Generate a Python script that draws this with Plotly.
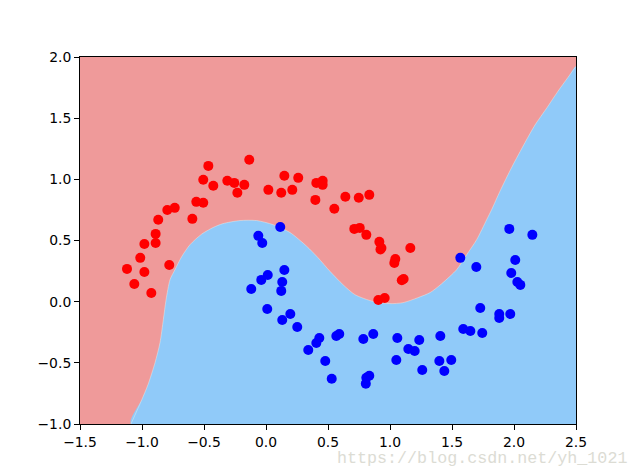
import plotly.graph_objects as go

# points of class 0 (red)
red_x = [-0.135, -0.465, -0.506, -0.425, -0.312, -0.256, -0.175, -0.231, 0.019, 0.148, 0.123, 0.260, 0.212,
         0.406, 0.457, 0.457, 0.398, -0.562, -0.506, -0.594, -0.796, -0.736, -0.869, -0.890, -0.981, -0.890,
         -1.014, -0.780, -1.121, -0.981, -1.062, -0.925, 0.640, 0.748, 0.833, 0.551, 0.712, 0.756, 0.809,
         0.914, 0.923, 0.931, 1.164, 1.043, 1.035, 1.095, 1.110, 0.906, 0.957]
red_y = [1.160, 1.110, 0.996, 0.947, 0.988, 0.971, 0.955, 0.890, 0.914, 1.029, 0.890, 1.012, 0.914,
         0.971, 0.988, 0.955, 0.832, 0.816, 0.808, 0.677, 0.750, 0.767, 0.669, 0.554, 0.472, 0.480,
         0.358, 0.300, 0.268, 0.243, 0.145, 0.071, 0.857, 0.849, 0.873, 0.759, 0.595, 0.603, 0.546,
         0.489, 0.426, 0.438, 0.439, 0.349, 0.317, 0.175, 0.185, 0.014, 0.030]

# points of class 1 (blue)
blue_x = [0.115, -0.062, -0.030, 0.148, 0.014, -0.038, 0.131, -0.119, 0.123, 0.010, 0.196, 0.131, 0.252,
          0.430, 0.406, 0.341, 0.478, 0.530, 1.962, 2.148, 1.567, 1.696, 2.010, 1.978, 2.027, 2.051, 1.728,
          1.881, 1.881, 1.970, 1.591, 1.648, 1.744, 1.406, 1.236, 1.059, 0.865, 0.785, 0.591, 0.567, 1.148,
          1.199, 1.051, 1.398, 1.494, 1.260, 1.438, 0.833, 0.809, 0.805]
blue_y = [0.611, 0.538, 0.480, 0.259, 0.218, 0.178, 0.161, 0.104, 0.088, -0.060, -0.101, -0.150, -0.207,
          -0.297, -0.338, -0.395, -0.485, -0.630, 0.595, 0.546, 0.358, 0.284, 0.341, 0.235, 0.161, 0.137, -0.052,
          -0.101, -0.133, -0.101, -0.223, -0.240, -0.256, -0.281, -0.313, -0.297, -0.264, -0.305, -0.264, -0.281, -0.387,
          -0.403, -0.477, -0.485, -0.477, -0.559, -0.567, -0.606, -0.622, -0.670]

boundary_x = [-1.089, -1.002, -0.952, -0.895, -0.855, -0.828, -0.806, -0.774, -0.734, -0.680, -0.613, -0.519,
              -0.427, -0.347, -0.210, -0.075, 0.056, 0.194, 0.328, 0.419, 0.516, 0.621, 0.718, 0.863, 1.000,
              1.105, 1.226, 1.323, 1.417, 1.538, 1.619, 1.699, 1.780, 1.820, 1.887, 1.981, 2.089, 2.169,
              2.264, 2.355, 2.435, 2.500]
boundary_y = [-1.000, -0.802, -0.679, -0.499, -0.336, -0.147, 0.016, 0.180, 0.262, 0.368, 0.466, 0.552,
              0.606, 0.638, 0.663, 0.663, 0.630, 0.565, 0.453, 0.360, 0.248, 0.139, 0.057, 0.002, -0.016,
              -0.008, 0.033, 0.074, 0.147, 0.262, 0.385, 0.507, 0.671, 0.753, 0.903, 1.097, 1.301, 1.444,
              1.583, 1.721, 1.833, 1.923]

x_ticks = [-1.5, -1.0, -0.5, 0.0, 0.5, 1.0, 1.5, 2.0, 2.5]
y_ticks = [-1.0, -0.5, 0.0, 0.5, 1.0, 1.5, 2.0]

fig = go.Figure()

# blue region, closed through the bottom right corner
fig.add_trace(go.Scatter(x=boundary_x + [2.5, boundary_x[0]], y=boundary_y + [-1.0, boundary_y[0]],
                         mode='lines', fill='toself', fillcolor='#90caf9',
                         line=dict(width=0, shape='spline', smoothing=0.7), hoverinfo='skip'))
fig.add_trace(go.Scatter(x=boundary_x, y=boundary_y, mode='lines', opacity=0.7,
                         line=dict(color='#ffffee', width=0.5, shape='spline', smoothing=0.7), hoverinfo='skip'))
fig.add_trace(go.Scatter(x=red_x, y=red_y, mode='markers', marker=dict(color='#ff0000', size=10)))
fig.add_trace(go.Scatter(x=blue_x, y=blue_y, mode='markers', marker=dict(color='#0000ff', size=10)))

axis_style = dict(showgrid=False, zeroline=False, showline=True, mirror=True, linecolor='black', linewidth=1,
                  ticks='outside', ticklen=5, tickwidth=1, tickcolor='black', tickformat='.1f')

fig.update_xaxes(range=[-1.5, 2.5], tickvals=x_ticks, **axis_style)
fig.update_yaxes(range=[-1.0, 2.0], tickvals=y_ticks, **axis_style)

# the page has an 8px body margin, so the figure is 8px smaller than the window
fig.update_layout(
    width=632,
    height=468,
    margin=dict(l=72, r=64, t=49, b=52, autoexpand=False),
    plot_bgcolor='#ef9a9a',
    paper_bgcolor='white',
    font=dict(family='DejaVu Sans', size=13.9, color='black'),
    showlegend=False,
    annotations=[dict(text='https://blog.csdn.net/yh_1021', xref='paper', yref='paper', x=1.106, y=-0.063,
                      xanchor='right', yanchor='top', showarrow=False,
                      font=dict(family='Liberation Mono', size=16.7, color='#dcdcd4'))],
)

fig.write_html("out.html")
